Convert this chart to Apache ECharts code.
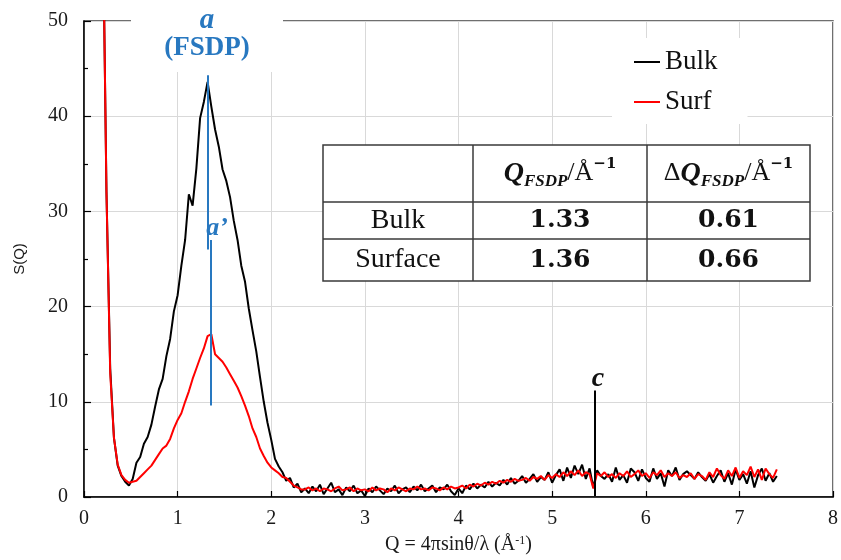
<!DOCTYPE html>
<html>
<head>
<meta charset="utf-8">
<script src="https://cdn.jsdelivr.net/npm/echarts/dist/echarts.min.js"></script>
<style>
html, body {margin: 0; padding: 0; background: #fff;}
#sq_chart {width: 841px; height: 560px;}
</style>
</head>
<body>
<div id="sq_chart"></div>
<script>
//*************** data *************************
// Q grid: 0.20 .. 7.40, step 0.04
var q_start = 0.20;
var q_step = 0.04;

// S(Q) bulk, one line = 10 points (0.4 in Q)
var bulk_sq = [
    62, 32, 13.5, 6.2, 3.3, 2.2, 1.6, 1.2, 1.9, 3.6,
    4.2, 5.6, 6.3, 7.6, 9.5, 11.3, 12.4, 14.8, 16.6, 19.5,
    21.2, 24.3, 27.0, 31.8, 30.6, 34.5, 39.8, 41.5, 43.6, 41.0,
    38.6, 36.8, 34.4, 33.2, 31.5, 29.0, 27.0, 24.3, 22.6, 19.8,
    17.5, 15.3, 12.6, 10.0, 7.8, 6.0, 4.0, 3.2, 2.6, 1.7,
    2.0, 1.0, 1.4, 0.5, 0.9, 0.4, 1.1, 0.6, 1.3, 0.3,
    0.9, 1.5, 0.5, 0.8, 0.2, 1.0, 0.6, 1.2, 0.4, 0.7,
    0.1, 0.9, 0.5, 1.1, 0.7, 0.3, 0.9, 0.6, 1.2, 0.4,
    0.8, 1.0, 0.5, 1.1, 0.7, 1.3, 0.6, 0.9, 1.2, 0.5,
    1.0, 0.8, 1.3, 0.6, 0.2, 0.9, 0.4, 1.2, 0.8, 1.4,
    0.9, 1.3, 1.0, 1.6, 1.1, 1.5, 1.2, 1.8, 1.3, 2.0,
    1.4, 1.7, 2.2, 1.5, 1.9, 2.4, 1.6, 2.1, 1.8, 2.6,
    1.5, 2.3, 2.9, 1.7, 3.1, 2.0, 3.3, 2.4, 3.4, 1.9,
    3.0, 1.0, 2.8, 2.2, 1.9, 2.4, 1.6, 3.1, 1.8, 2.3,
    1.5, 3.0, 2.6, 1.7, 2.9, 2.0, 1.6, 3.0, 1.9, 2.5,
    1.1, 2.8, 2.2, 3.1, 1.8, 2.4, 2.7, 2.3, 1.9, 2.6,
    2.1, 1.7, 2.4, 1.5, 2.2, 2.8, 1.6, 2.5, 1.3, 2.9,
    1.8, 2.4, 1.4, 2.7, 1.0, 2.3, 3.0, 1.7, 2.5, 1.6,
    2.2
];

// S(Q) surface
var surf_sq = [
    62, 32, 13, 6.2, 3.4, 2.3, 1.8, 1.5, 1.6, 1.7,
    2.1, 2.5, 2.9, 3.3, 3.9, 4.5, 5.1, 5.4, 6.1, 7.2,
    8.1, 8.8, 10.0, 11.1, 12.4, 13.5, 14.6, 15.6, 16.9, 17.1,
    15.0, 14.6, 14.2, 13.6, 12.9, 12.2, 11.5, 10.6, 9.6, 8.5,
    7.2, 6.3, 5.1, 4.3, 3.6, 3.1, 2.8, 2.5, 2.1, 2.0,
    1.6, 1.2, 1.0, 0.8, 0.8, 1.0, 0.7, 0.9, 0.6, 0.9,
    0.8, 0.6, 0.9, 1.1, 0.7, 0.8, 1.0, 0.6, 0.9, 0.7,
    0.8, 0.6, 1.0, 0.7, 0.9, 0.8, 0.5, 0.9, 0.7, 1.0,
    0.8, 0.6, 0.9, 0.8, 1.1, 0.8, 0.9, 0.7, 1.0, 0.9,
    0.7, 1.0, 0.8, 1.1, 0.9, 1.0, 1.2, 0.9, 1.3, 1.1,
    1.4, 1.2, 1.5, 1.3, 1.6, 1.4, 1.7, 1.5, 1.8, 1.6,
    1.9, 1.7, 1.8, 2.0, 1.7, 2.1, 1.9, 2.2, 1.8, 2.3,
    2.0, 2.4, 2.1, 2.6, 2.2, 2.7, 2.3, 2.8, 2.2, 2.6,
    2.4, 0.9, 2.5, 2.2, 2.6, 2.1, 2.4, 2.0, 2.5, 2.2,
    2.7, 2.1, 2.4, 2.8, 2.2, 2.5, 2.0, 2.6, 2.3, 2.8,
    2.1, 2.5, 2.2, 2.6, 2.0, 2.3, 2.1, 2.5, 1.9, 2.4,
    2.2, 1.8, 2.6, 2.1, 3.0, 2.3, 1.9, 2.8, 2.2, 3.1,
    2.0, 2.7, 2.3, 3.2, 2.1, 2.9, 1.8, 3.0, 2.4, 2.0,
    2.9
];

// peak markers [Q, S top, S bottom]
var mark_a = [1.32, 44.3, 26.0];
var mark_a2 = [1.35, 27.0, 9.6];
var mark_c = [5.45, 11.2, 0.1];

// table contents
var table_rows = [
    ['Bulk', '1.33', '0.61'],
    ['Surface', '1.36', '0.66']
];

var x_ticks = [0, 8, 1];
var y_ticks = [0, 50, 10];

//*************** styles *************************
var serif = "'Liberation Serif', 'Times New Roman', serif";
var sans = "'Liberation Sans', Arial, sans-serif";
var math_bold = "'DejaVu Serif', 'Liberation Serif', serif";
var blue = '#2878c0';

function to_pairs(values) {
    var out = [];
    for (var i = 0; i < values.length; i++) {
        out.push([+(q_start + q_step * i).toFixed(2), values[i]]);
    }
    return out;
}

function v_line(m, color) {
    return [
        {coord: [m[0], m[1]], lineStyle: {color: color, width: 2, type: 'solid'}},
        {coord: [m[0], m[2]]}
    ];
}

//*************** table *************************
var tx = [323, 473, 647, 810];
var ty = [145, 202, 239, 281];

var head_rich = {
    d: {fontFamily: serif, fontSize: 26, fontWeight: 'normal', lineHeight: 34, verticalAlign: 'middle', fill: '#111'},
    q: {fontFamily: serif, fontSize: 28, fontStyle: 'italic', fontWeight: 'bold', lineHeight: 34, verticalAlign: 'middle', fill: '#111'},
    s: {fontFamily: serif, fontSize: 17, fontStyle: 'italic', fontWeight: 'bold', lineHeight: 18, verticalAlign: 'bottom', fill: '#111'},
    r: {fontFamily: serif, fontSize: 26, lineHeight: 34, verticalAlign: 'middle', fill: '#111'},
    p: {fontFamily: math_bold, fontSize: 15, fontWeight: 'bold', lineHeight: 24, verticalAlign: 'top', fill: '#111'}
};

function cell_text(x, y, text, font) {
    return {
        type: 'text', x: x, y: y, z: 12,
        style: {
            text: text, font: font, fill: '#111',
            textAlign: 'center', textVerticalAlign: 'middle',
            align: 'center', verticalAlign: 'middle'
        }
    };
}

function head_text(x, y, text) {
    return {
        type: 'text', x: x, y: y, z: 12,
        style: {
            text: text, rich: head_rich,
            textAlign: 'center', textVerticalAlign: 'middle',
            align: 'center', verticalAlign: 'middle'
        }
    };
}

var table_elements = [
    {type: 'rect', z: 10, shape: {x: tx[0], y: ty[0], width: tx[3] - tx[0], height: ty[3] - ty[0]},
        style: {fill: '#fff', stroke: '#3a3a3a', lineWidth: 1.5}},
    {type: 'line', z: 11, shape: {x1: tx[1], y1: ty[0], x2: tx[1], y2: ty[3]}, style: {stroke: '#3a3a3a', lineWidth: 1.5}},
    {type: 'line', z: 11, shape: {x1: tx[2], y1: ty[0], x2: tx[2], y2: ty[3]}, style: {stroke: '#3a3a3a', lineWidth: 1.5}},
    {type: 'line', z: 11, shape: {x1: tx[0], y1: ty[1], x2: tx[3], y2: ty[1]}, style: {stroke: '#3a3a3a', lineWidth: 1.5}},
    {type: 'line', z: 11, shape: {x1: tx[0], y1: ty[2], x2: tx[3], y2: ty[2]}, style: {stroke: '#3a3a3a', lineWidth: 1.5}},
    head_text((tx[1] + tx[2]) / 2, (ty[0] + ty[1]) / 2, '{q|Q}{s|FSDP}{r|/Å}{p|−1}'),
    head_text((tx[2] + tx[3]) / 2, (ty[0] + ty[1]) / 2, '{d|Δ}{q|Q}{s|FSDP}{r|/Å}{p|−1}')
];

for (var r = 0; r < table_rows.length; r++) {
    var cy = (ty[r + 1] + ty[r + 2]) / 2;
    table_elements.push(cell_text((tx[0] + tx[1]) / 2, cy, table_rows[r][0], '28px ' + serif));
    table_elements.push(cell_text((tx[1] + tx[2]) / 2, cy, table_rows[r][1], 'bold 25px ' + math_bold));
    table_elements.push(cell_text((tx[2] + tx[3]) / 2, cy, table_rows[r][2], 'bold 25px ' + math_bold));
}

//*************** annotations *************************
var note_elements = [
    {type: 'rect', z: 10, shape: {x: 131, y: 0, width: 152, height: 72}, style: {fill: '#fff'}},
    cell_text(207, 21, 'a', 'italic bold 29px ' + serif),
    cell_text(207, 48, '(FSDP)', 'bold 27px ' + serif),
    cell_text(217, 228, 'a’', 'italic bold 26px ' + serif),
    cell_text(598, 379, 'c', 'italic bold 28px ' + serif)
];
note_elements[1].style.fill = blue;
note_elements[2].style.fill = blue;
note_elements[3].style.fill = blue;

//*************** chart *************************
var sq_chart_dom = document.getElementById('sq_chart');
var sq_chart = echarts.init(sq_chart_dom);

var option = {
    animation: false,
    backgroundColor: '#fff',
    grid: {
        left: 84, right: 4, top: 21, bottom: 61,
        show: true, borderColor: '#404040', borderWidth: 1.5
    },
    legend: {
        data: ['Bulk', 'Surf'],
        orient: 'vertical',
        left: 612, top: 38,
        padding: [10, 30, 8, 22],
        backgroundColor: '#fff',
        itemGap: 12,
        itemWidth: 26, itemHeight: 2,
        icon: 'rect',
        textStyle: {fontFamily: serif, fontSize: 27, lineHeight: 28, color: '#111'}
    },
    xAxis: {
        type: 'value',
        min: x_ticks[0], max: x_ticks[1], interval: x_ticks[2],
        name: 'Q = 4πsinθ/λ (Å{sup|-1})',
        nameLocation: 'middle',
        nameGap: 38,
        nameTextStyle: {
            fontFamily: serif, fontSize: 20, color: '#1a1a1a',
            rich: {sup: {fontFamily: serif, fontSize: 12, verticalAlign: 'top', lineHeight: 14, color: '#1a1a1a'}}
        },
        axisLine: {show: true, onZero: false, lineStyle: {color: '#000', width: 1.5}},
        axisTick: {show: true, inside: true, length: 6, lineStyle: {color: '#000', width: 1.2}},
        axisLabel: {margin: 12, fontFamily: serif, fontSize: 20, color: '#1a1a1a'},
        splitLine: {show: true, lineStyle: {color: '#d9d9d9', width: 1}}
    },
    yAxis: {
        type: 'value',
        min: y_ticks[0], max: y_ticks[1], interval: y_ticks[2],
        name: 'S(Q)',
        nameLocation: 'middle',
        nameGap: 57,
        nameTextStyle: {fontFamily: sans, fontSize: 15, color: '#1a1a1a'},
        axisLine: {show: true, lineStyle: {color: '#000', width: 1.5}},
        axisTick: {show: true, inside: true, length: 7, lineStyle: {color: '#000', width: 1.2}},
        minorTick: {show: true, splitNumber: 2, length: 4, lineStyle: {color: '#000', width: 1.2}},
        axisLabel: {margin: 16, fontFamily: serif, fontSize: 20, color: '#1a1a1a'},
        splitLine: {show: true, lineStyle: {color: '#d9d9d9', width: 1}}
    },
    series: [
        {
            name: 'Bulk',
            type: 'line',
            data: to_pairs(bulk_sq),
            showSymbol: false,
            symbol: 'none',
            clip: true,
            color: '#000',
            lineStyle: {color: '#000', width: 2}
        },
        {
            name: 'Surf',
            type: 'line',
            data: to_pairs(surf_sq),
            showSymbol: false,
            symbol: 'none',
            clip: true,
            color: '#ff0000',
            lineStyle: {color: '#ff0000', width: 2},
            markLine: {
                silent: true,
                symbol: ['none', 'none'],
                label: {show: false},
                data: [
                    v_line(mark_a, blue),
                    v_line(mark_a2, blue),
                    v_line(mark_c, '#000')
                ]
            }
        }
    ],
    graphic: note_elements.concat(table_elements)
};

sq_chart.setOption(option);
</script>
</body>
</html>
